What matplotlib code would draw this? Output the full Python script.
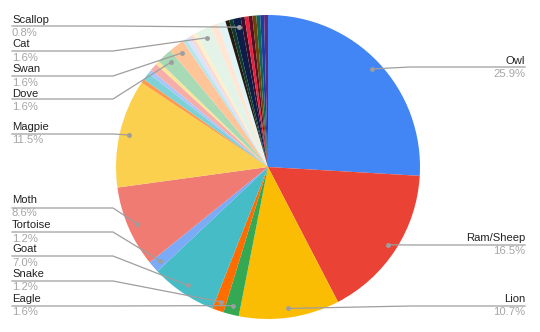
import matplotlib.pyplot as plt
import numpy as np

# counts (total 243), clockwise from 12 o'clock
names = ['Owl', 'Ram/Sheep', 'Lion', 'Eagle', 'Snake', 'Goat', 'Tortoise', 'Moth', 'Magpie',
         '', '', '', '', '', 'Dove', 'Swan', '', '', '', '', 'Cat', '', '',
         '', '', 'Scallop', '', '', '', '', '', '', '']
counts = [63, 40, 26, 4, 3, 17, 3, 21, 28,
          1, 2, 1, 2, 1, 4, 4, 1, 1, 1, 1, 4, 2, 2,
          1, 1, 2, 1, 1, 1, 1, 1, 1, 1]
colors = ['#4285F4', '#EA4335', '#FBBC04', '#34A853', '#FF6D01', '#46BDC6', '#7BAAF7', '#F07B72', '#FCD04F',
          '#FF994D', '#7ED1D7', '#A8C6FA', '#F6AEA9', '#FDE49B', '#A8DAB5', '#FFC599', '#B9E5E9', '#D6E4FC',
          '#FBD9D6', '#FEF0C8', '#E4F3E8', '#FFE6D5', '#E2F5F6',
          '#231A10', '#0E3B2C', '#0C1D4A', '#3B0D28', '#E8213F', '#5A1020', '#6B4308', '#0E6656', '#1C3C9E', '#5C2B78']

# label placement: (side, name y, percent y, underline y) in pixels
label_pos = {
    'Scallop': ('L', 20, 33, 26), 'Cat': ('L', 44, 58, 51), 'Swan': ('L', 69, 83, 76),
    'Dove': ('L', 94, 107, 99), 'Magpie': ('L', 127, 140, 134), 'Moth': ('L', 200, 213, 208),
    'Tortoise': ('L', 225, 239, 232), 'Goat': ('L', 249, 263, 256), 'Snake': ('L', 274, 287, 281),
    'Eagle': ('L', 299, 312, 306),
    'Owl': ('R', 61, 74, 67), 'Ram/Sheep': ('R', 238, 251, 245), 'Lion': ('R', 299, 312, 306),
}

plt.rcParams['font.family'] = ['Liberation Sans', 'DejaVu Sans']

fig = plt.figure(figsize=(5.4, 3.32), dpi=100)
ax = fig.add_axes([0, 0, 1, 1])

cx, cy, r = 268, 167, 152
wedges, _ = ax.pie(counts, colors=colors, startangle=-90, counterclock=True,
                   center=(cx, cy), radius=r, wedgeprops=dict(linewidth=0))
ax.set_xlim(0, 540)
ax.set_ylim(332, 0)
ax.set_aspect('equal')
ax.axis('off')

total = sum(counts)
line_c = '#9E9E9E'
fs = 8.1
for w, nm, c in zip(wedges, names, counts):
    if nm not in label_pos:
        continue
    side, ny, py, ly = label_pos[nm]
    mid = np.deg2rad((w.theta1 + w.theta2) / 2)
    dx = cx + 0.94 * r * np.cos(mid)
    dy = cy + 0.94 * r * np.sin(mid)
    pct = f'{100 * c / total:.1f}%'
    if side == 'L':
        ax.plot([12, 113, dx], [ly, ly, dy], color=line_c, lw=0.9)
        ax.text(12, ny, nm, ha='left', va='center', fontsize=fs, color='#222222')
        ax.text(12, py, pct, ha='left', va='center', fontsize=fs, color='#A6A6A6')
    else:
        ax.plot([dx, 410, 525], [dy, ly, ly], color=line_c, lw=0.9)
        ax.text(525, ny, nm, ha='right', va='center', fontsize=fs, color='#222222')
        ax.text(525, py, pct, ha='right', va='center', fontsize=fs, color='#A6A6A6')
    ax.plot(dx, dy, 'o', color=line_c, ms=2.5)

fig.savefig('out.png', dpi=100)
